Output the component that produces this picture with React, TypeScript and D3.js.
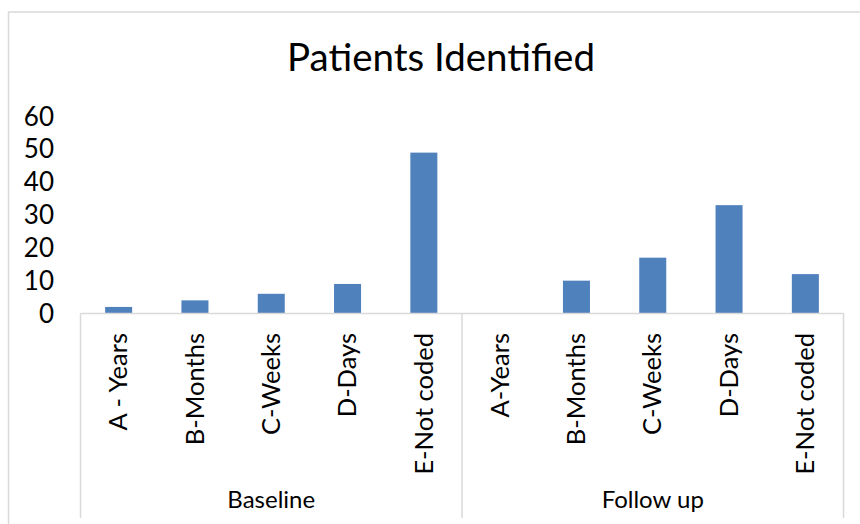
import React from "react";
import * as d3 from "d3";

// chart values
const groups = ["Baseline", "Follow up"];
const baselineCategories = ["A - Years", "B-Months", "C-Weeks", "D-Days", "E-Not coded"];
const followUpCategories = ["A-Years", "B-Months", "C-Weeks", "D-Days", "E-Not coded"];
const baselineValues = [2, 4, 6, 9, 49];
const followUpValues = [0, 10, 17, 33, 12];
const yTicks = [0, 10, 20, 30, 40, 50, 60];

const title = "Patients Identified";

interface Bar {
  key: string;
  group: string;
  label: string;
  value: number;
}

const bars: Bar[] = [
  ...baselineCategories.map((c, i) => ({
    key: `${groups[0]}|${c}`,
    group: groups[0],
    label: c,
    value: baselineValues[i],
  })),
  ...followUpCategories.map((c, i) => ({
    key: `${groups[1]}|${c}`,
    group: groups[1],
    label: c,
    value: followUpValues[i],
  })),
];

const WIDTH = 860;
const HEIGHT = 524;
const FONT = "Lato, 'Open Sans', sans-serif";
const BAR_COLOR = "#4f81bd";
const LINE_COLOR = "#d9d9d9";

const plot = { left: 80.5, right: 843.5, top: 116.5, bottom: 313.5 };
const labelTop = 333; // where the rotated category labels end
const groupLineBottom = 518;

const App: React.FC = () => {
  const x = d3
    .scaleBand<string>()
    .domain(bars.map((b) => b.key))
    .range([plot.left, plot.right])
    .paddingInner(0.646)
    .paddingOuter(0.323);

  const y = d3
    .scaleLinear()
    .domain([0, d3.max(yTicks) as number])
    .range([plot.bottom, plot.top]);

  const step = x.step();

  // group spans for the second level of the category axis
  const groupSpans = groups.map((g) => {
    const keys = bars.filter((b) => b.group === g).map((b) => b.key);
    const start = (x(keys[0]) as number) - (step - x.bandwidth()) / 2;
    const end = (x(keys[keys.length - 1]) as number) + x.bandwidth() + (step - x.bandwidth()) / 2;
    return { name: g, start, end };
  });
  const dividers = [groupSpans[0].start, ...groupSpans.map((s) => s.end)];

  return (
    <svg
      width={WIDTH}
      height={HEIGHT}
      style={{ position: "absolute", left: 0, top: 0, background: "#fff" }}
      fontFamily={FONT}
    >
      {/* chart frame, runs past the bottom right of the view */}
      <rect x={8.5} y={12} width={WIDTH + 40} height={HEIGHT + 40} fill="#fff" stroke={LINE_COLOR} strokeWidth={1.5} />

      <text x={441} y={71} textAnchor="middle" fontSize={38.5} fill="#000">
        {title}
      </text>

      {/* y tick labels (no axis line, no gridlines) */}
      {yTicks.map((t) => (
        <text key={t} x={54} y={y(t)} dy="0.35em" textAnchor="end" fontSize={26} fill="#000">
          {t}
        </text>
      ))}

      {/* bars */}
      {bars.map((b) => (
        <rect
          key={b.key}
          x={x(b.key)}
          y={y(b.value)}
          width={x.bandwidth()}
          height={y(0) - y(b.value)}
          fill={BAR_COLOR}
        />
      ))}

      {/* category axis */}
      <line x1={plot.left} x2={plot.right} y1={y(0)} y2={y(0)} stroke={LINE_COLOR} strokeWidth={1.5} />
      {dividers.map((d, i) => (
        <line key={i} x1={d} x2={d} y1={y(0)} y2={groupLineBottom} stroke={LINE_COLOR} strokeWidth={1.5} />
      ))}

      {bars.map((b) => {
        const cx = (x(b.key) as number) + x.bandwidth() / 2;
        return (
          <text
            key={`l-${b.key}`}
            transform={`translate(${cx},${labelTop}) rotate(-90)`}
            dy="0.34em"
            textAnchor="end"
            fontSize={25.5}
            fill="#000"
          >
            {b.label}
          </text>
        );
      })}

      {groupSpans.map((s) => (
        <text key={s.name} x={(s.start + s.end) / 2} y={508} textAnchor="middle" fontSize={24} fill="#000">
          {s.name}
        </text>
      ))}
    </svg>
  );
};

export default App;
